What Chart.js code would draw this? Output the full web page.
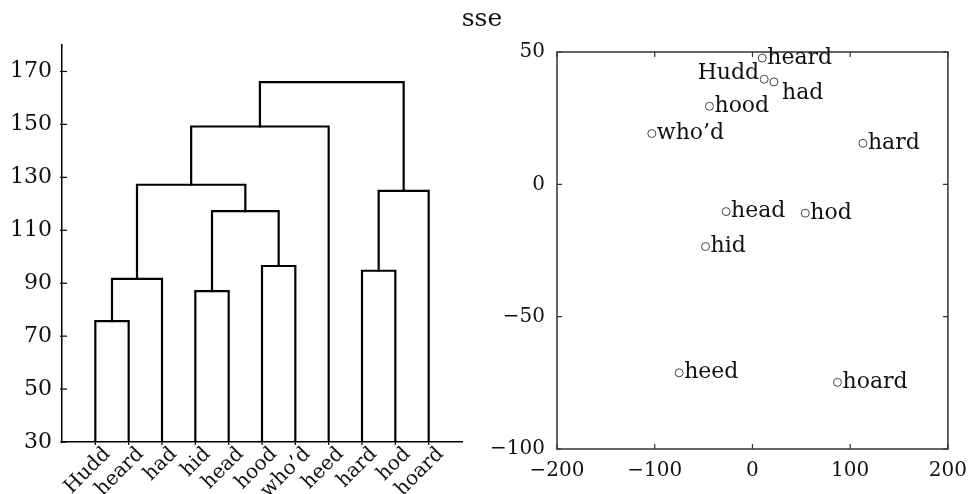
<!DOCTYPE html>
<html><head><meta charset="utf-8">
<script src="https://cdn.jsdelivr.net/npm/chart.js@4/dist/chart.umd.min.js"></script>
<style>
html,body{margin:0;padding:0;background:#fff;}
#wrap{position:relative;width:977px;height:494px;overflow:hidden;background:#fff;}
#left{position:absolute;left:0;top:0;}
#right{position:absolute;left:420px;top:0;}
</style></head><body>
<div id="wrap">
<canvas id="left" width="480" height="494"></canvas>
<canvas id="right" width="557" height="494"></canvas>
</div>
<script>
// ---- Dendrogram data ----
const leaves = ['Hudd', 'heard', 'had', 'hid', 'head', 'hood', 'who\u2019d', 'heed', 'hard', 'hod', 'hoard'];
// linkage: node ids < 11 are leaves, id 11+k is merge k
const mergeA = [0, 11, 3, 5, 8, 13, 15, 12, 18, 19];
const mergeB = [1, 2, 4, 6, 9, 14, 10, 16, 7, 17];
const mergeH = [75.7, 91.6, 87.0, 96.5, 94.7, 117.2, 124.9, 127.2, 149.2, 166.0];
const dendroYTicks = [30, 50, 70, 90, 110, 130, 150, 170];

// ---- MDS scatter data ----
const words = ['heard', 'Hudd', 'had', 'hood', 'who\u2019d', 'hard', 'head', 'hod', 'hid', 'heed', 'hoard'];
const mdsX = [10, 12, 22, -44, -103, 113, -27, 54, -48, -75, 87];
const mdsY = [47.7, 39.7, 38.7, 29.5, 19.2, 15.5, -10.3, -10.9, -23.5, -71.2, -74.8];
const mdsXTicks = [-200, -100, 0, 100, 200];
const mdsYTicks = [-100, -50, 0, 50];
const figTitle = 'sse';

const FONT = "'DejaVu Serif', 'Liberation Serif', serif";
const TXT = '#111';
const fmt = v => (v < 0 ? '\u2212' + Math.abs(v) : String(v));

// build dendrogram segments from the linkage
const YBASE = dendroYTicks[0];
const nodeX = leaves.map((_, i) => i + 1);
const nodeY = leaves.map(() => YBASE);
const dendroSets = [];
for (let k = 0; k < mergeH.length; k++) {
  const a = mergeA[k], b = mergeB[k], h = mergeH[k];
  dendroSets.push({
    data: [{x: nodeX[a], y: nodeY[a]}, {x: nodeX[a], y: h}, {x: nodeX[b], y: h}, {x: nodeX[b], y: nodeY[b]}],
    showLine: true, borderColor: '#000', borderWidth: 2.2, pointRadius: 0,
    borderJoinStyle: 'miter', borderCapStyle: 'square', tension: 0, fill: false
  });
  nodeX.push((nodeX[a] + nodeX[b]) / 2);
  nodeY.push(h);
}

const leftDecor = {
  id: 'leftDecor',
  afterDatasetsDraw(chart) {
    const {ctx, chartArea: ca, scales} = chart;
    ctx.save();
    ctx.strokeStyle = '#000'; ctx.lineWidth = 1.2;
    dendroYTicks.forEach(v => {
      const y = scales.y.getPixelForValue(v);
      ctx.beginPath(); ctx.moveTo(ca.left - 2, y); ctx.lineTo(ca.left + 5, y); ctx.stroke();
    });
    ctx.fillStyle = TXT;
    ctx.font = '20px ' + FONT;
    ctx.textAlign = 'right';
    ctx.textBaseline = 'alphabetic';
    leaves.forEach((w, i) => {
      const x = scales.x.getPixelForValue(i + 1);
      ctx.beginPath(); ctx.moveTo(x, ca.bottom + 3); ctx.lineTo(x, ca.bottom - 4); ctx.stroke();
      ctx.save();
      ctx.translate(x + 5, ca.bottom + 2);
      ctx.rotate(-Math.PI / 4);
      ctx.fillText(w, 0, 15);
      ctx.restore();
    });
    ctx.restore();
  }
};

new Chart(document.getElementById('left'), {
  type: 'scatter',
  data: {datasets: dendroSets},
  options: {
    responsive: false, animation: false, devicePixelRatio: 1, events: [],
    layout: {padding: {top: 45, right: 18, left: 0, bottom: 0}},
    plugins: {legend: {display: false}, tooltip: {enabled: false}},
    scales: {
      x: {
        type: 'linear', min: 0, max: leaves.length + 1,
        afterBuildTicks: s => { s.ticks = leaves.map((_, i) => ({value: i + 1})); },
        afterFit: s => { s.height = 52; },
        grid: {display: false, drawTicks: false},
        border: {display: true, color: '#000', width: 1.5},
        ticks: {display: false}
      },
      y: {
        type: 'linear', min: 30, max: 180,
        afterBuildTicks: s => { s.ticks = dendroYTicks.map(v => ({value: v})); },
        afterFit: s => { s.width = 62; },
        grid: {display: false, drawTicks: false},
        border: {display: true, color: '#000', width: 1.5},
        ticks: {padding: 10, color: TXT, font: {family: FONT, size: 22}, callback: fmt}
      }
    }
  },
  plugins: [leftDecor]
});

const labelOffsets = {Hudd: {align: 'right', dx: -5, dy: -6}, had: {align: 'left', dx: 8, dy: 11}};
const rightDecor = {
  id: 'rightDecor',
  afterDatasetsDraw(chart) {
    const {ctx, chartArea: ca, scales} = chart;
    ctx.save();
    ctx.strokeStyle = '#333'; ctx.lineWidth = 1.5;
    ctx.strokeRect(ca.left, ca.top, ca.right - ca.left, ca.bottom - ca.top);
    ctx.lineWidth = 1.2;
    mdsXTicks.forEach(v => {
      const x = scales.x.getPixelForValue(v);
      ctx.beginPath(); ctx.moveTo(x, ca.bottom); ctx.lineTo(x, ca.bottom - 5);
      ctx.moveTo(x, ca.top); ctx.lineTo(x, ca.top + 5); ctx.stroke();
    });
    mdsYTicks.forEach(v => {
      const y = scales.y.getPixelForValue(v);
      ctx.beginPath(); ctx.moveTo(ca.left, y); ctx.lineTo(ca.left + 5, y);
      ctx.moveTo(ca.right, y); ctx.lineTo(ca.right - 5, y); ctx.stroke();
    });
    // point labels
    ctx.fillStyle = TXT;
    ctx.font = '22px ' + FONT;
    ctx.textBaseline = 'middle';
    const meta = chart.getDatasetMeta(0);
    meta.data.forEach((pt, i) => {
      const w = words[i];
      const o = labelOffsets[w] || {align: 'left', dx: 5, dy: 0};
      ctx.textAlign = o.align;
      ctx.fillText(w, pt.x + o.dx, pt.y + o.dy);
    });
    // figure title (centred at page x = 482)
    ctx.font = '25px ' + FONT;
    ctx.textAlign = 'center';
    ctx.fillText(figTitle, 62, 19);
    ctx.restore();
  }
};

new Chart(document.getElementById('right'), {
  type: 'scatter',
  data: {datasets: [{
    data: mdsX.map((x, i) => ({x, y: mdsY[i]})),
    pointRadius: 4, pointBorderWidth: 1, pointBorderColor: '#444',
    pointBackgroundColor: 'rgba(0,0,0,0)', showLine: false
  }]},
  options: {
    responsive: false, animation: false, devicePixelRatio: 1, events: [],
    layout: {padding: {top: 52, right: 23, left: 0, bottom: 0}},
    plugins: {legend: {display: false}, tooltip: {enabled: false}},
    scales: {
      x: {
        type: 'linear', min: -200, max: 200,
        afterBuildTicks: s => { s.ticks = mdsXTicks.map(v => ({value: v})); },
        afterFit: s => { s.height = 45; },
        grid: {display: false, drawTicks: false},
        border: {display: false},
        ticks: {padding: 10, maxRotation: 0, color: TXT, font: {family: FONT, size: 20}, callback: fmt}
      },
      y: {
        type: 'linear', min: -100, max: 50,
        afterBuildTicks: s => { s.ticks = mdsYTicks.map(v => ({value: v})); },
        afterFit: s => { s.width = 137; },
        grid: {display: false, drawTicks: false},
        border: {display: false},
        ticks: {padding: 12, color: TXT, font: {family: FONT, size: 20}, callback: fmt}
      }
    }
  },
  plugins: [rightDecor]
});
</script>
</body></html>
